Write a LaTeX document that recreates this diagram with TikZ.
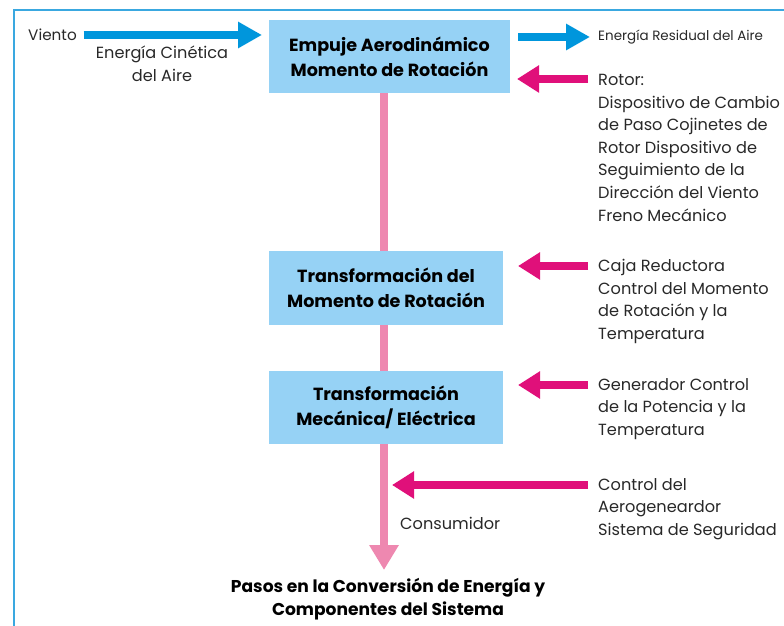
\documentclass[tikz,border=0pt]{standalone}
\usepackage{fontspec}
\setmainfont{Poppins}
\usetikzlibrary{arrows.meta}

\definecolor{marcoazul}{RGB}{58,168,224}
\definecolor{vientoazul}{RGB}{0,150,220}
\definecolor{cajaazul}{RGB}{150,210,245}
\definecolor{troncorosa}{RGB}{238,136,176}
\definecolor{flecharosa}{RGB}{224,16,122}
\definecolor{textogris}{RGB}{40,40,40}

\tikzset{
    paso/.style={fill=cajaazul, inner sep=0pt, minimum height=2.2cm, align=center,
        text=black, font=\fontsize{15}{21.3}\selectfont\bfseries},
    nota/.style={inner sep=0pt, align=left, text=textogris, font=\fontsize{13.8}{19.3}\selectfont},
    flechaazul/.style={vientoazul, line width=6.8pt, -{Triangle[length=0.72cm,width=0.75cm]}},
    flecharoja/.style={flecharosa, line width=6.8pt, -{Triangle[length=0.66cm,width=0.78cm]}},
    tronco/.style={troncorosa, line width=6.8pt}
}

\begin{document}
\begin{tikzpicture}[x=0.03cm, y=-0.03cm]

    \useasboundingbox (0,0) rectangle (784,626);

    % Frame
    \draw[marcoazul, line width=2pt] (14,626) -- (14,10) -- (784,10);

    % Steps
    \node[paso, minimum width=7.23cm] (empuje) at (389.5,56.5)
        {Empuje Aerodinámico\\Momento de Rotación};
    \node[paso, minimum width=7.02cm] (momento) at (386,288)
        {Transformación del\\Momento de Rotación};
    \node[paso, minimum width=7.02cm] (electrica) at (386,407.5)
        {Transformación\\Mecánica/ Eléctrica};

    % Wind
    \node[nota, anchor=west, font=\fontsize{13}{18}\selectfont] (viento) at (28,35) {Viento};
    \node[nota, align=center] (cinetica) at (162,64) {Energía Cinética\\del Aire};
    \coordinate (vientoini) at ([xshift=0.2cm]viento.east);
    \coordinate (vientofin) at (262,35);
    \draw[flechaazul] (vientoini) -- (vientofin);

    % Residual energy
    \node[nota, anchor=west, font=\fontsize{11.5}{16}\selectfont] (residual) at (598,37)
        {Energía Residual del Aire};
    \coordinate (resini) at (518,37);
    \draw[flechaazul] (resini) -- ([xshift=-0.24cm]residual.west);

    % Components
    \node[nota, anchor=north west] (rotor) at (598,74)
        {Rotor:\\Dispositivo de Cambio\\de Paso Cojinetes de\\Rotor Dispositivo de\\Seguimiento de la\\Dirección del Viento\\Freno Mecánico};
    \node[nota, anchor=north west] (caja) at (598,259)
        {Caja Reductora\\Control del Momento\\de Rotación y la\\Temperatura};
    \node[nota, anchor=north west] (generador) at (598,378)
        {Generador Control\\de la Potencia y la\\Temperatura};
    \node[nota, anchor=north west] (control) at (598,478)
        {Control del\\Aerogeneardor\\Sistema de Seguridad};

    % Trunk
    \coordinate (fin) at (384,570);
    \draw[tronco] (empuje.south -| fin) -- (momento.north -| fin);
    \draw[tronco] (momento.south -| fin) -- (electrica.north -| fin);
    \draw[tronco, -{Triangle[length=0.75cm,width=0.84cm]}] (electrica.south -| fin) -- (fin);
    \node[nota, anchor=west] (consumidor) at (400,523) {Consumidor};

    % Inputs
    \draw[flecharoja] (rotor.north west) ++(-10,5) -- ++(-71,0);
    \draw[flecharoja] (caja.north west) ++(-10,7) -- ++(-70,0);
    \draw[flecharoja] (generador.north west) ++(-10,7) -- ++(-70,0);
    \draw[flecharoja] (control.north west) ++(-10,7) -- ++(-196,0);

    % Caption
    \node[nota, align=center, text=black, font=\fontsize{14.6}{19.6}\selectfont\bfseries] (titulo) at (388,599)
        {Pasos en la Conversión de Energía y\\Componentes del Sistema};

\end{tikzpicture}
\end{document}
